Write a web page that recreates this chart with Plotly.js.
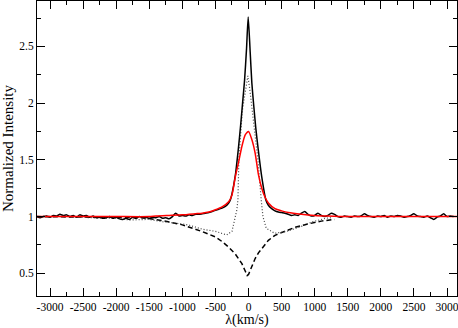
<!DOCTYPE html>
<html>
<head>
<meta charset="utf-8">
<script src="https://cdn.plot.ly/plotly-3.0.1.min.js"></script>
<style>html,body{margin:0;padding:0;background:#fff;}#chart{width:458px;height:328px;}</style>
</head>
<body>
<div id="chart"></div>
<script>
// Observed profile (solid black)
const obsV = [-3200,-3150,-3100,-3050,-3000,-2950,-2900,-2850,-2800,-2750,-2700,-2650,-2600,-2550,-2500,-2450,-2400,-2350,-2300,-2250,-2200,-2150,-2100,-2050,-2000,-1950,-1900,-1850,-1800,-1750,-1700,-1650,-1600,-1550,-1500,-1450,-1400,-1350,-1300,-1250,-1200,-1150,-1100,-1050,-1000,-950,-900,-850,-800,-750,-700,-650,-600,-550,-500,-450,-400,-350,-300,-275,-250,-200,-155,-120,-90,-60,-30,-5,25,50,80,110,147,200,262,300,350,400,450,500,550,600,650,700,750,800,850,900,950,1000,1050,1100,1150,1200,1250,1300,1350,1400,1450,1500,1550,1600,1650,1700,1750,1800,1850,1900,1950,2000,2050,2100,2150,2200,2250,2300,2350,2400,2450,2500,2550,2600,2650,2700,2750,2800,2850,2900,2950,3000,3050,3100,3150];
const obsI = [1.00,0.99,1.00,1.005,0.995,1.01,1.005,1.02,1.01,1.015,1.00,1.01,0.995,1.015,1.005,1.01,0.995,1.005,0.99,0.995,0.985,0.99,1.00,0.985,0.995,0.98,0.975,0.985,0.975,0.995,0.985,1.00,0.99,0.995,0.985,0.995,0.99,1.00,0.985,0.99,0.98,1.00,1.03,1.005,1.01,1.005,1.015,1.01,1.02,1.02,1.025,1.03,1.035,1.045,1.055,1.065,1.075,1.09,1.12,1.147,1.20,1.36,1.59,1.80,2.00,2.20,2.48,2.76,2.45,2.18,1.97,1.78,1.59,1.35,1.147,1.10,1.07,1.05,1.04,1.035,1.03,1.02,1.01,1.015,1.01,1.03,1.045,1.02,1.005,1.01,1.03,1.01,1.00,1.01,1.03,1.02,1.00,0.995,1.005,1.00,0.995,1.005,1.00,1.005,1.025,1.01,1.00,0.995,1.005,1.00,1.01,0.995,1.005,1.00,1.01,1.005,0.995,1.00,1.01,1.025,1.005,1.00,0.995,1.005,0.99,0.975,0.995,1.005,1.025,1.00,1.005,1.00];

// Fit (red)
const fitV = [-3200,-2500,-2000,-1500,-1400,-1200,-1000,-800,-700,-600,-500,-400,-300,-250,-200,-150,-100,-50,0,50,100,150,200,250,300,400,500,600,800,1000,1200,1500,2000,2500,3150];
const fitI = [1.00,1.00,1.00,1.00,1.005,1.01,1.015,1.025,1.03,1.04,1.06,1.085,1.13,1.19,1.35,1.48,1.62,1.72,1.75,1.68,1.56,1.37,1.25,1.17,1.12,1.07,1.05,1.035,1.02,1.01,1.005,1.00,1.00,1.00,1.00];

// Absorption component (dashed)
const absV = [-3200,-2500,-2000,-1600,-1300,-1000,-700,-500,-400,-300,-200,-150,-100,-50,-20,0,50,100,150,200,300,400,500,700,900,1100,1300];
const absI = [1.00,0.998,0.995,0.99,0.965,0.927,0.868,0.82,0.78,0.73,0.67,0.63,0.585,0.52,0.48,0.49,0.56,0.63,0.68,0.72,0.79,0.835,0.86,0.905,0.935,0.96,0.975];

// Corrected emission (dotted)
const emV = [-3200,-2800,-2400,-2000,-1800,-1500,-1300,-1100,-1000,-900,-700,-500,-413,-330,-250,-220,-196,-176,-160,-146,-92,-45,-10,20,55,142,192,218,268,393,570,822,974,1175,1250];
const emI = [1.00,1.005,0.99,0.985,0.97,0.975,0.955,0.945,0.935,0.925,0.889,0.87,0.853,0.838,0.87,0.95,1.00,1.06,1.15,1.50,1.94,2.12,2.24,2.12,1.94,1.50,1.147,1.00,0.897,0.853,0.868,0.918,0.956,0.986,0.99];

const xTickVals = [-3000,-2500,-2000,-1500,-1000,-500,0,500,1000,1500,2000,2500,3000];
const xTickText = ["-3000","-2500","-2000","-1500","-1000","-500","0","500","1000","1500","2000","2500","3000"];
const yTickVals = [0.5,1,1.5,2,2.5];
const yTickText = ["0.5","1","1.5","2","2.5"];

const traces = [
  {x: absV, y: absI, mode:'lines', line:{color:'#000', width:1.5, dash:'5px,3px'}, hoverinfo:'skip'},
  {x: emV, y: emI, mode:'lines', line:{color:'#444', width:1.2, dash:'1px,2px'}, hoverinfo:'skip'},
  {x: obsV, y: obsI, mode:'lines', line:{color:'#000', width:1.5, shape:'spline', smoothing:0.6}, hoverinfo:'skip'},
  {x: fitV, y: fitI, mode:'lines', line:{color:'#ff0000', width:1.5, shape:'spline', smoothing:0.6}, hoverinfo:'skip'}
];

const fam = 'Liberation Serif, Times New Roman, DejaVu Serif, serif';
const axFont = {family:fam, size:11.5, color:'#000'};
const layout = {
  width:458, height:328,
  margin:{l:37, r:1, t:1, b:32},
  paper_bgcolor:'#fff', plot_bgcolor:'#fff',
  showlegend:false,
  font:{family:fam, color:'#000'},
  xaxis:{
    range:[-3197,3151], showgrid:false, zeroline:false,
    showline:true, linecolor:'#000', linewidth:1, mirror:'ticks',
    ticks:'inside', ticklen:8, tickwidth:1, tickcolor:'#000',
    tickmode:'array', tickvals:xTickVals, ticktext:xTickText,
    ticklabeloverflow:'allow',
    minor:{tickmode:'linear', tick0:0, dtick:250, ticks:'inside', ticklen:4, tickcolor:'#000', showgrid:false},
    tickfont:axFont,
    title:{text:'λ(km/s)', font:{family:fam, size:14, color:'#000'}, standoff:3}
  },
  yaxis:{
    range:[0.3,2.9], showgrid:false, zeroline:false,
    showline:true, linecolor:'#000', linewidth:1, mirror:'ticks',
    ticks:'inside', ticklen:8, tickwidth:1, tickcolor:'#000',
    tickmode:'array', tickvals:yTickVals, ticktext:yTickText,
    ticklabeloverflow:'allow',
    minor:{tickmode:'linear', tick0:0, dtick:0.25, ticks:'inside', ticklen:4, tickcolor:'#000', showgrid:false},
    tickfont:axFont,
    title:{text:'Normalized Intensity', font:{family:fam, size:15, color:'#000'}, standoff:3}
  }
};
Plotly.newPlot('chart', traces, layout, {staticPlot:true, displayModeBar:false});
</script>
</body>
</html>
